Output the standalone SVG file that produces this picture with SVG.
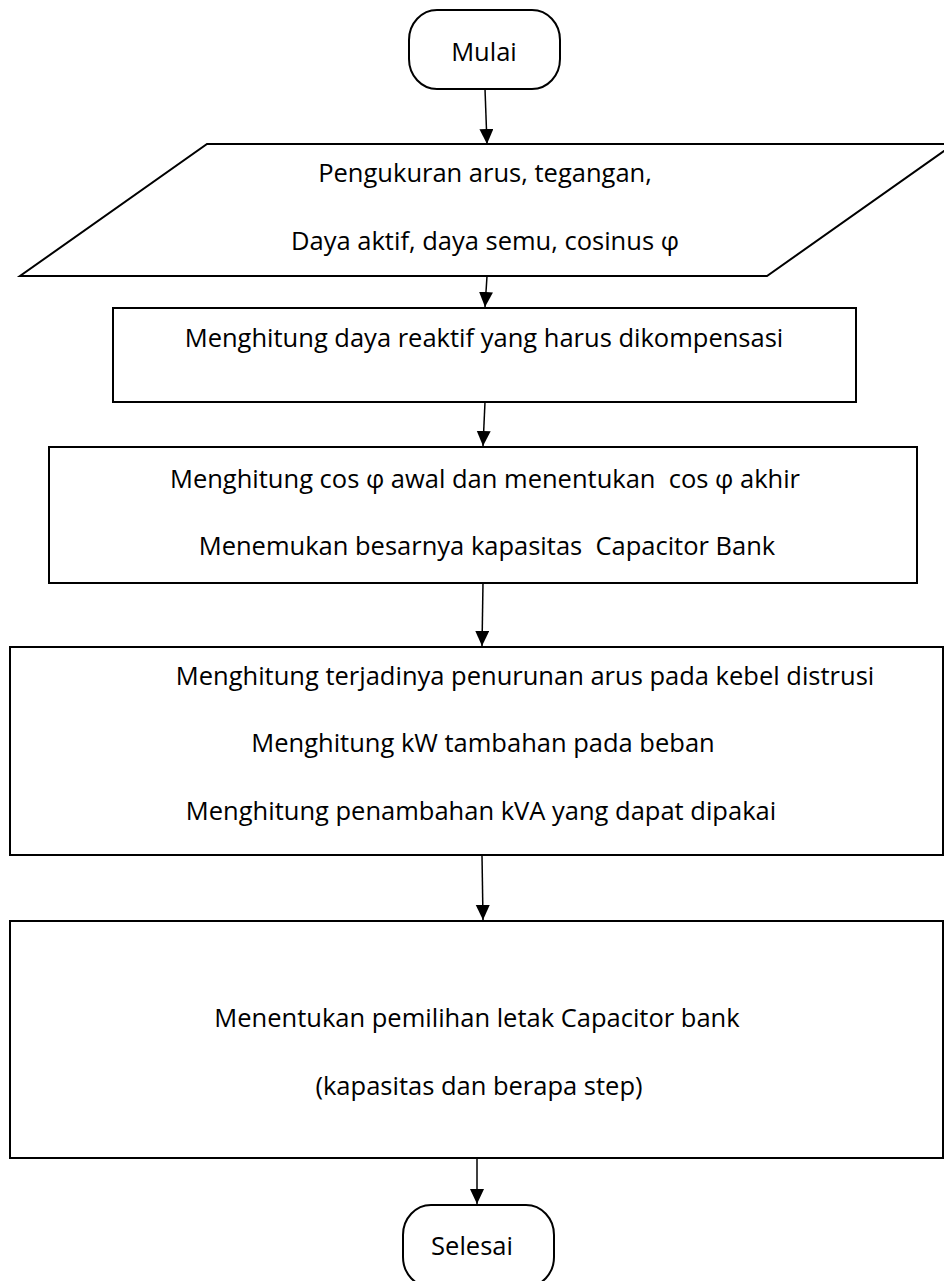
<svg xmlns="http://www.w3.org/2000/svg" width="944" height="1281" viewBox="0 0 944 1281">
<style>
.shape{fill:#fff;stroke:#000;stroke-width:2}
.t{font-family:"Open Sans","Liberation Sans",sans-serif;font-size:25.5px;fill:#000;text-anchor:middle}
.conn{stroke:#000;stroke-width:1.5;fill:none;marker-end:url(#ah)}
</style>
<defs>
<marker id="ah" markerUnits="userSpaceOnUse" markerWidth="16" markerHeight="18" refX="15" refY="7" orient="auto">
<path d="M0,0 L15,7 L0,14 Z" fill="#000"/>
</marker>
</defs>
<rect width="944" height="1281" fill="#fff"/>
<g id="mulai">
<rect class="shape" x="409" y="10" width="151" height="79" rx="28" ry="30"/>
<text class="t" x="484" y="61">Mulai</text>
</g>
<g id="input">
<polygon class="shape" points="207,144 954,144 767,276 20,276"/>
<text class="t" x="485" y="182">Pengukuran arus, tegangan,</text>
<text class="t" x="485" y="250">Daya aktif, daya semu, cosinus φ</text>
</g>
<g id="box2">
<rect class="shape" x="113" y="308" width="743" height="94"/>
<text class="t" x="484" y="347">Menghitung daya reaktif yang harus dikompensasi</text>
</g>
<g id="box3">
<rect class="shape" x="49" y="447" width="868" height="136"/>
<text class="t" x="485" y="488" xml:space="preserve">Menghitung cos φ awal dan menentukan  cos φ akhir</text>
<text class="t" x="487" y="555" xml:space="preserve">Menemukan besarnya kapasitas  Capacitor Bank</text>
</g>
<g id="box4">
<rect class="shape" x="10" y="647" width="933" height="208"/>
<text class="t" x="525" y="685">Menghitung terjadinya penurunan arus pada kebel distrusi</text>
<text class="t" x="483" y="752">Menghitung kW tambahan pada beban</text>
<text class="t" x="481" y="820">Menghitung penambahan kVA yang dapat dipakai</text>
</g>
<g id="box5">
<rect class="shape" x="10" y="921" width="933" height="237"/>
<text class="t" x="477" y="1027">Menentukan pemilihan letak Capacitor bank</text>
<text class="t" x="479" y="1095">(kapasitas dan berapa step)</text>
</g>
<g id="selesai">
<rect class="shape" x="403" y="1205" width="151" height="82" rx="28" ry="30"/>
<text class="t" x="472" y="1255">Selesai</text>
</g>
<g id="connectors">
<line class="conn" x1="485" y1="89" x2="487" y2="144"/>
<line class="conn" x1="487" y1="276" x2="485" y2="307"/>
<line class="conn" x1="485" y1="402" x2="483" y2="446"/>
<line class="conn" x1="483" y1="583" x2="482" y2="646"/>
<line class="conn" x1="482" y1="855" x2="483" y2="920"/>
<line class="conn" x1="477" y1="1158" x2="477" y2="1204"/>
</g>
</svg>
